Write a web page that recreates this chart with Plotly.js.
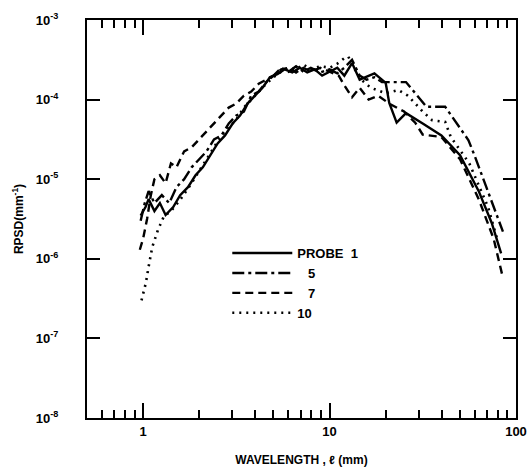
<!DOCTYPE html>
<html>
<head>
<meta charset="utf-8">
<script src="https://cdn.plot.ly/plotly-3.0.1.min.js"></script>
<style>html,body{margin:0;padding:0;background:#fff;}#chart{width:532px;height:474px;}</style>
</head>
<body>
<div id="chart"></div>
<script>
// Wavelength (mm) and RPSD (mm^-1) for each probe
const probe1_x = [0.97,1.03,1.07,1.15,1.23,1.32,1.45,1.58,1.74,1.91,2.09,2.29,2.51,2.75,3.02,3.31,3.63,3.98,4.37,4.79,5.25,5.75,6.31,6.92,7.59,8.32,9.12,10,11.0,12.0,13.2,14.5,17.4,20.0,20.9,22.9,25.7,31.6,39.8,50.1,63.1,74.1,83.2];
const probe1_y = [3.5e-6,4.47e-6,5.62e-6,3.98e-6,5.01e-6,3.55e-6,4.47e-6,6.31e-6,7.94e-6,1.12e-5,1.41e-5,2.0e-5,2.82e-5,3.55e-5,5.01e-5,6.31e-5,8.91e-5,1.12e-4,1.41e-4,1.91e-4,2.09e-4,2.40e-4,2.19e-4,2.51e-4,2.19e-4,2.40e-4,2.0e-4,2.24e-4,2.51e-4,2.0e-4,2.88e-4,1.78e-4,2.14e-4,1.62e-4,9.1e-5,5.13e-5,6.76e-5,5.01e-5,3.55e-5,2.0e-5,7.08e-6,2.82e-6,1.17e-6];

const probe5_x = [0.97,1.02,1.07,1.15,1.26,1.38,1.51,1.66,1.82,2.0,2.19,2.40,2.63,2.88,3.16,3.47,3.80,4.17,4.57,5.01,5.50,6.03,6.61,7.24,7.94,8.91,10,11.0,12.0,13.2,14.5,15.8,17.4,19.1,25.7,33.1,41.7,55.6,60.3,85.1];
const probe5_y = [3.0e-6,5.01e-6,7.08e-6,5.01e-6,6.31e-6,5.01e-6,7.94e-6,1.0e-5,1.41e-5,1.78e-5,2.24e-5,3.16e-5,3.55e-5,5.01e-5,6.31e-5,7.08e-5,1.12e-4,1.26e-4,1.66e-4,2.0e-4,2.51e-4,2.24e-4,2.63e-4,2.24e-4,2.51e-4,2.19e-4,2.40e-4,2.14e-4,2.51e-4,3.16e-4,2.0e-4,1.78e-4,1.91e-4,1.66e-4,1.66e-4,8.13e-5,8.13e-5,3.09e-5,1.91e-5,2.19e-6];

const probe7_x = [0.96,1.0,1.05,1.10,1.15,1.23,1.32,1.41,1.51,1.66,1.82,2.0,2.19,2.40,2.63,2.88,3.16,3.47,3.80,4.17,4.57,5.01,5.50,6.03,6.61,7.24,7.94,8.91,10,11.2,12.0,13.2,14.5,16.2,18.2,20.9,25.1,28.8,31.6,39.8,50.1,63.1,75.9,85.1];
const probe7_y = [1.3e-6,1.8e-6,3.16e-6,6.31e-6,1.0e-5,1.12e-5,8.91e-6,1.58e-5,1.41e-5,2.24e-5,2.51e-5,3.16e-5,3.98e-5,5.01e-5,6.31e-5,7.94e-5,8.91e-5,1.12e-4,1.26e-4,1.58e-4,1.78e-4,2.0e-4,2.40e-4,2.51e-4,2.19e-4,2.51e-4,2.24e-4,2.51e-4,2.24e-4,2.0e-4,1.51e-4,1.07e-4,1.41e-4,1.0e-4,1.12e-4,8.91e-5,7.08e-5,5.13e-5,3.63e-5,3.39e-5,1.78e-5,5.62e-6,1.78e-6,5.75e-7];

const probe10_x = [0.98,1.0,1.035,1.07,1.12,1.20,1.29,1.41,1.58,1.82,2.0,2.19,2.40,2.63,2.88,3.16,3.47,3.80,4.17,4.57,5.01,5.50,6.03,6.61,7.24,7.94,8.91,10,11.0,12.0,12.6,13.5,14.8,16.6,20.0,23.4,26.3,31.6,35.5,41.7,44.7,56.2,70.8,79.4];
const probe10_y = [3.0e-7,3.6e-7,5.01e-7,7.94e-7,1.41e-6,2.29e-6,3.39e-6,3.98e-6,5.50e-6,8.91e-6,1.26e-5,1.78e-5,2.51e-5,3.55e-5,4.47e-5,5.62e-5,7.94e-5,1.0e-4,1.26e-4,1.58e-4,1.91e-4,2.24e-4,2.51e-4,2.40e-4,2.75e-4,2.40e-4,2.63e-4,2.51e-4,2.82e-4,3.31e-4,3.47e-4,2.51e-4,1.78e-4,1.41e-4,1.20e-4,1.32e-4,1.12e-4,7.08e-5,5.50e-5,5.25e-5,3.39e-5,1.58e-5,4.47e-6,1.74e-6];

const seriesNames = ["PROBE  1", "\u00a0\u00a0\u00a05", "\u00a0\u00a0\u00a07", "10"];
const xTickVals = [1, 10, 100];
const xTickText = ["1", "10", "100"];
const xMinorVals = [0.6,0.7,0.8,0.9,2,3,4,5,6,7,8,9,20,30,40,50,60,70,80,90];
const yTickVals = [1e-8, 1e-7, 1e-6, 1e-5, 1e-4, 1e-3];
const yTickText = ["10<sup>-8</sup>","10<sup>-7</sup>","10<sup>-6</sup>","10<sup>-5</sup>","10<sup>-4</sup>","10<sup>-3</sup>"];

const FONT = "Liberation Sans, Arial, sans-serif";
const mk = (x, y, name, dash, w) => ({
  x: x, y: y, name: name, type: "scatter", mode: "lines",
  line: {color: "#000", width: w, dash: dash}
});

const data = [
  mk(probe1_x, probe1_y, seriesNames[0], "solid", 2.4),
  mk(probe5_x, probe5_y, seriesNames[1], "12px,4px,3px,4px", 2.4),
  mk(probe7_x, probe7_y, seriesNames[2], "8px,5px", 2.4),
  mk(probe10_x, probe10_y, seriesNames[3], "2px,5px", 2.6)
];

const layout = {
  width: 532, height: 474,
  margin: {l: 87, r: 16, t: 20, b: 56},
  paper_bgcolor: "#fff", plot_bgcolor: "#fff",
  font: {family: FONT, color: "#000", size: 12, weight: "bold"},
  showlegend: true,
  legend: {
    x: 0.327, y: 0.452, xanchor: "left", yanchor: "top",
    bgcolor: "rgba(0,0,0,0)", borderwidth: 0,
    itemwidth: 60, tracegroupgap: 0,
    font: {family: FONT, size: 13, color: "#000", weight: "bold"}
  },
  xaxis: {
    type: "log", range: [Math.log10(0.5), 2],
    showgrid: false, zeroline: false,
    showline: true, linecolor: "#000", linewidth: 2, mirror: "ticks",
    ticks: "inside", ticklen: 15, tickwidth: 2, tickcolor: "#000",
    tickmode: "array", tickvals: xTickVals, ticktext: xTickText,
    tickfont: {family: FONT, size: 13, weight: "bold"},
    minor: {tickmode: "array", tickvals: xMinorVals, ticks: "inside", ticklen: 8, tickwidth: 2, tickcolor: "#000", showgrid: false},
    title: {text: "WAVELENGTH , \u2113 (mm)", font: {family: FONT, size: 12, weight: "bold"}, standoff: 18}
  },
  yaxis: {
    type: "log", range: [-8, -3],
    showgrid: false, zeroline: false,
    showline: true, linecolor: "#000", linewidth: 2, mirror: "ticks",
    ticks: "inside", ticklen: 13, tickwidth: 2, tickcolor: "#000",
    tickmode: "array", tickvals: yTickVals, ticktext: yTickText,
    tickfont: {family: FONT, size: 13, weight: "bold"},
    ticklabelstandoff: 24,
    title: {text: "RPSD(mm<sup>-1</sup>)", font: {family: FONT, size: 12, weight: "bold"}, standoff: 10}
  }
};

Plotly.newPlot("chart", data, layout, {displayModeBar: false, staticPlot: true});
</script>
</body>
</html>
